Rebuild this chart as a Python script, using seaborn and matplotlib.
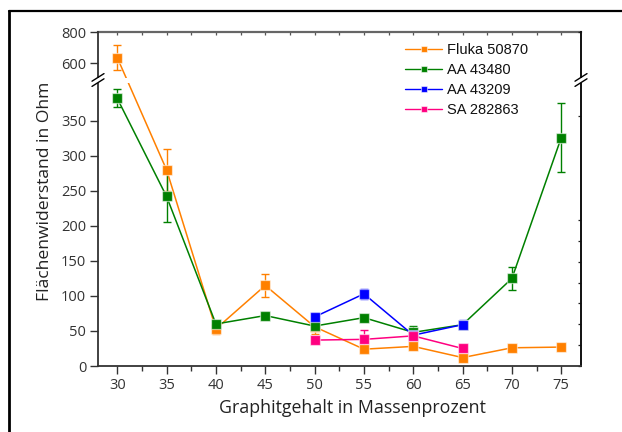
import numpy as np
import pandas as pd
import matplotlib
matplotlib.use("Agg")
import matplotlib.pyplot as plt
import seaborn as sns
from matplotlib.lines import Line2D
from matplotlib.patches import Rectangle
from matplotlib.ticker import FixedLocator, MultipleLocator

# ---- data -------------------------------------------------------------
x_full = [30, 35, 40, 45, 50, 55, 60, 65, 70, 75]
x_part = [50, 55, 60, 65]

fluka_y = [636, 280, 53, 115, 56, 24, 28, 12, 26, 27]
fluka_err = [80, 30, 8, 16, 11, 5, 4, 3, 4, 4]

aa480_y = [382, 242, 60, 72, 57, 69, 48, 59, 125, 326]
aa480_err = [13, 37, 4, 5, 4, 3, 9, 4, 17, 49]

aa209_y = [70, 103, 44, 59]
aa209_err = [6, 7, 5, 6]

sa_y = [37, 38, 43, 25]
sa_err = [3, 13, 5, 2]

series_names = ["Fluka 50870", "AA 43480", "AA 43209", "SA 282863"]
series_colors = ["#FF8000", "#008000", "#0000FF", "#FF0080"]

y_ticks = [0, 50, 100, 150, 200, 250, 300, 350, 600, 800]
x_ticks = [30, 35, 40, 45, 50, 55, 60, 65, 70, 75]

series = [
    (series_names[0], x_full, fluka_y, fluka_err),
    (series_names[1], x_full, aa480_y, aa480_err),
    (series_names[2], x_part, aa209_y, aa209_err),
    (series_names[3], x_part, sa_y, sa_err),
]

df = pd.concat(
    [pd.DataFrame({"x": xs, "y": ys, "err": es, "Probe": name})
     for name, xs, ys, es in series],
    ignore_index=True,
)
palette = dict(zip(series_names, series_colors))

# ---- broken y scale: 0..404 lower part, 404..512 squeezed, 512..800 upper
B1, B2 = 404.0, 512.0
S1, S2, S3 = 0.702, 6.0 / 108.0, 0.1565


def fwd(v):
    v = np.asarray(v, dtype=float)
    return np.where(
        v <= B1, v * S1,
        np.where(v <= B2, B1 * S1 + (v - B1) * S2,
                 B1 * S1 + (B2 - B1) * S2 + (v - B2) * S3))


def inv(p):
    p = np.asarray(p, dtype=float)
    p1 = B1 * S1
    p2 = p1 + (B2 - B1) * S2
    return np.where(
        p <= p1, p / S1,
        np.where(p <= p2, B1 + (p - p1) / S2, B2 + (p - p2) / S3))


# ---- figure -----------------------------------------------------------
sns.set_theme(style="ticks")
plt.rcParams["font.family"] = ["Open Sans", "DejaVu Sans"]

W, H = 622, 432
fig = plt.figure(figsize=(W / 100, H / 100), dpi=100)
fig.patch.set_facecolor("white")

L, R, T, Bt = 98, 581, 32, 366
ax = fig.add_axes([L / W, 1 - Bt / H, (R - L) / W, (Bt - T) / H])
ax.set_yscale("function", functions=(fwd, inv))

sns.lineplot(
    data=df, x="x", y="y", hue="Probe", palette=palette,
    hue_order=series_names, sort=False, errorbar=None,
    marker="s", markersize=6.5, markeredgecolor=(1, 1, 1, 0.55),
    markeredgewidth=0.9, linewidth=1.1, legend=False, ax=ax, zorder=3,
)

for name, xs, ys, es in series:
    ax.errorbar(xs, ys, yerr=es, fmt="none", ecolor=palette[name],
                elinewidth=1.0, capsize=2.6, capthick=1.0, zorder=2.5)

ax.set_xlim(28.05, 77.0)
ax.set_ylim(0, 800)

ax.yaxis.set_major_locator(FixedLocator(y_ticks))
ax.yaxis.set_minor_locator(FixedLocator([]))
ax.xaxis.set_major_locator(FixedLocator(x_ticks))
ax.xaxis.set_minor_locator(MultipleLocator(2.5))

tick_col = "#333333"
ax.tick_params(axis="both", which="major", labelsize=10.5, labelcolor=tick_col,
               color="#333333", width=1.0, length=5.5, direction="out", pad=3)
ax.tick_params(axis="x", which="minor", color="#333333", width=1.0,
               length=3.5, direction="out")
ax.tick_params(axis="x", which="both", top=False)
ax.tick_params(axis="y", which="both", right=False)

# small inward ticks on the top and right edges
sec_x = ax.secondary_xaxis("top")
sec_x.xaxis.set_major_locator(FixedLocator(x_ticks))
sec_x.xaxis.set_minor_locator(MultipleLocator(2.5))
sec_x.tick_params(which="both", direction="in", length=2.5, width=0.9,
                  color="#555555", labeltop=False)
sec_x.spines["top"].set_color("#666666")
sec_x.spines["top"].set_linewidth(1.6)

sec_y = ax.secondary_yaxis("right")
sec_y.yaxis.set_major_locator(FixedLocator(y_ticks))
sec_y.yaxis.set_minor_locator(FixedLocator([]))
sec_y.tick_params(which="major", direction="in", length=2.5, width=0.9,
                  color="#222222", labelright=False)
sec_y.spines["right"].set_color("#111111")
sec_y.spines["right"].set_linewidth(1.4)

for side in ("left", "bottom"):
    ax.spines[side].set_color("#333333")
    ax.spines[side].set_linewidth(1.3)
ax.spines["top"].set_visible(False)
ax.spines["right"].set_visible(False)

ax.set_xlabel("Graphitgehalt in Massenprozent", fontsize=12.8,
              color="#222222")
ax.set_ylabel("Flächenwiderstand in Ohm", fontsize=12.6, color="#222222")
ax.xaxis.set_label_coords((352 - L) / (R - L), -(413 - Bt) / (Bt - T),
                          transform=ax.transAxes)
ax.xaxis.label.set_va("baseline")
ax.yaxis.set_label_coords(-(L - 45) / (R - L), (Bt - 191) / (Bt - T))
ax.yaxis.label.set_va("center")

# ---- axis break: white gap band and slanted marks ---------------------
aw, ah = R - L, Bt - T
yb = (Bt - 80) / ah          # break centre in axes fraction
gap = 5.0 / ah
ax.add_patch(Rectangle((-6 / aw, yb - gap / 2), 1 + 12 / aw, gap,
                       transform=ax.transAxes, facecolor="white",
                       edgecolor="none", clip_on=False, zorder=10))
dx, dy = 6 / aw, 3.8 / ah
for xc in (0.0, 1.0):
    for off in (-2.6 / ah, 2.6 / ah):
        ax.add_line(Line2D([xc - dx, xc + dx], [yb + off - dy, yb + off + dy],
                           transform=ax.transAxes, color="black", lw=1.0,
                           clip_on=False, zorder=11))

# ---- legend -----------------------------------------------------------
handles = [Line2D([], [], color=c, lw=1.0, marker="s", markersize=5.0,
                  markeredgecolor=(1, 1, 1, 0.55), markeredgewidth=0.8)
           for c in series_colors]
leg = fig.legend(handles, series_names, loc="upper left",
                 bbox_to_anchor=(405 / W, 1 - 43 / H), frameon=False,
                 borderpad=0, borderaxespad=0, handlelength=2.55,
                 handletextpad=0.3, labelspacing=0.42,
                 prop={"family": ["Liberation Sans", "DejaVu Sans"],
                       "size": 10.5})
for t in leg.get_texts():
    t.set_color("#111111")

# ---- outer frame ------------------------------------------------------
fig.add_artist(Line2D([8.5 / W, 8.5 / W], [0, 1 - 11 / H],
                      transform=fig.transFigure, color="black", lw=2.0))
fig.add_artist(Line2D([8.5 / W, 1.0], [1 - 11 / H, 1 - 11 / H],
                      transform=fig.transFigure, color="black", lw=1.6))

fig.savefig("out.png", dpi=100, facecolor="white")
